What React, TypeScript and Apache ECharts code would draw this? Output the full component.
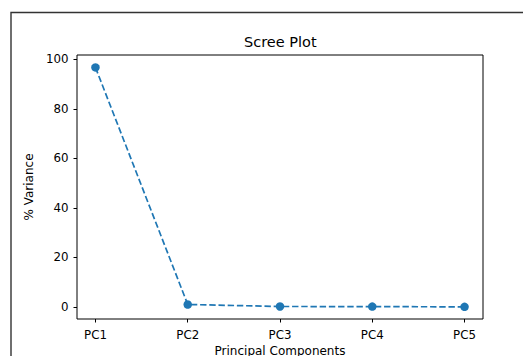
import React, { useEffect, useRef } from "react";
import * as echarts from "echarts";

const categories = ["PC1", "PC2", "PC3", "PC4", "PC5"];
const variance = [96.7, 1.0, 0.2, 0.15, 0.05];
const yTicks = [0, 20, 40, 60, 80, 100];

export default function App() {
  const ref = useRef<HTMLDivElement>(null);
  useEffect(() => {
    if (!ref.current) return;
    const chart = echarts.init(ref.current, null, { renderer: "svg" });
    const font = "DejaVu Sans";
    const xIdx = categories.map((_, i) => i);
    chart.setOption({
      animation: false,
      backgroundColor: "#fff",
      textStyle: { fontFamily: font },
      title: {
        text: "Scree Plot",
        left: 244,
        top: 34,
        padding: 0,
        textStyle: { fontFamily: font, fontSize: 14.5, fontWeight: "normal", color: "#000" },
      },
      graphic: [
        {
          type: "rect",
          z: -10,
          shape: { x: 11, y: 12.5, width: 700, height: 500 },
          style: { fill: "none", stroke: "#333", lineWidth: 1.4 },
        },
      ],
      grid: {
        left: 77,
        right: 40,
        top: 55,
        bottom: 37,
        show: true,
        borderColor: "#000",
        borderWidth: 1,
        backgroundColor: "transparent",
        containLabel: false,
        outerBoundsMode: "none",
      },
      xAxis: {
        type: "value",
        min: -0.2,
        max: 4.2,
        name: "Principal Components",
        nameLocation: "middle",
        nameGap: 25.5,
        nameTextStyle: { fontFamily: font, fontSize: 12, color: "#000" },
        axisLine: { show: false, onZero: false },
        splitLine: { show: false },
        axisTick: {
          show: true,
          length: 3.5,
          customValues: xIdx,
          lineStyle: { color: "#000", width: 1 },
        },
        axisLabel: {
          customValues: xIdx,
          margin: 9.5,
          fontFamily: font,
          fontSize: 11.8,
          color: "#000",
          formatter: (v: number) => categories[Math.round(v)] ?? "",
        },
      },
      yAxis: {
        type: "value",
        min: -4.85,
        max: 101.7,
        name: "% Variance",
        nameLocation: "middle",
        nameGap: 36,
        nameRotate: 90,
        nameTextStyle: { fontFamily: font, fontSize: 12, color: "#000" },
        axisLine: { show: false, onZero: false },
        splitLine: { show: false },
        axisTick: {
          show: true,
          length: 3.5,
          customValues: yTicks,
          lineStyle: { color: "#000", width: 1 },
        },
        axisLabel: {
          customValues: yTicks,
          margin: 8.5,
          fontFamily: font,
          fontSize: 11.8,
          color: "#000",
        },
      },
      series: [
        {
          type: "line",
          data: variance.map((v, i) => [i, v]),
          symbol: "circle",
          symbolSize: 8.5,
          itemStyle: { color: "#1f77b4" },
          lineStyle: { color: "#1f77b4", width: 1.7, type: [6.4, 2.8] },
        },
      ],
    });
    return () => chart.dispose();
  }, []);
  return (
    <div
      ref={ref}
      style={{ position: "fixed", left: 0, top: 0, width: 523, height: 356 }}
    />
  );
}
